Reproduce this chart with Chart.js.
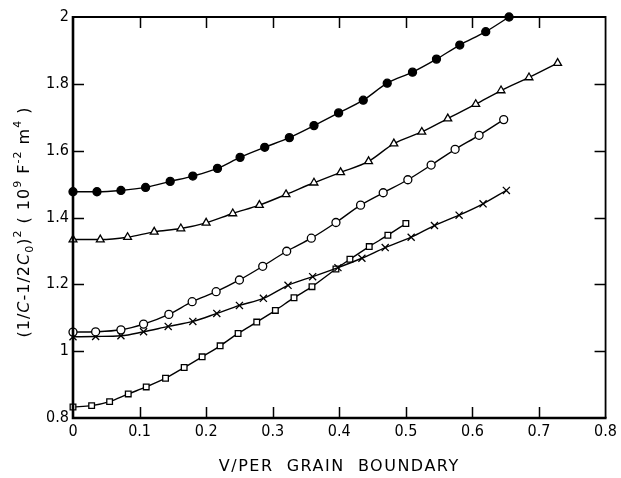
<!DOCTYPE html>
<html><head><meta charset="utf-8">
<script src="https://cdn.jsdelivr.net/npm/chart.js@4/dist/chart.umd.min.js"></script>
<style>html,body{margin:0;padding:0;background:#fff}#wrap{width:621px;height:478px}</style>
</head><body><div id="wrap"><canvas id="c" width="621" height="478"></canvas></div>
<script>
const xTickValues = [0, 0.1, 0.2, 0.3, 0.4, 0.5, 0.6, 0.7, 0.8];
const xTickLabels = ['0', '0.1', '0.2', '0.3', '0.4', '0.5', '0.6', '0.7', '0.8'];
const yTickValues = [0.8, 1.0, 1.2, 1.4, 1.6, 1.8, 2.0];
const yTickLabels = ['0.8', '1', '1.2', '1.4', '1.6', '1.8', '2'];

const filledX = [0, 0.036, 0.072, 0.109, 0.146, 0.180, 0.217, 0.251, 0.288, 0.325, 0.362, 0.399, 0.436, 0.472, 0.510, 0.546, 0.581, 0.620, 0.655];
const filledY = [1.477, 1.477, 1.481, 1.490, 1.508, 1.524, 1.547, 1.580, 1.610, 1.639, 1.675, 1.713, 1.751, 1.802, 1.835, 1.874, 1.916, 1.956, 2.000];

const triX = [0, 0.041, 0.082, 0.122, 0.162, 0.200, 0.240, 0.280, 0.320, 0.362, 0.402, 0.444, 0.482, 0.524, 0.563, 0.605, 0.643, 0.685, 0.728];
const triY = [1.334, 1.334, 1.341, 1.357, 1.367, 1.384, 1.412, 1.437, 1.469, 1.504, 1.535, 1.568, 1.621, 1.656, 1.696, 1.739, 1.780, 1.819, 1.862];

const circX = [0, 0.034, 0.072, 0.106, 0.144, 0.179, 0.215, 0.250, 0.285, 0.321, 0.358, 0.395, 0.432, 0.466, 0.503, 0.538, 0.574, 0.610, 0.647];
const circY = [1.057, 1.058, 1.064, 1.081, 1.110, 1.148, 1.178, 1.213, 1.254, 1.299, 1.338, 1.385, 1.437, 1.474, 1.513, 1.557, 1.604, 1.646, 1.693];

const crossX = [0, 0.034, 0.072, 0.106, 0.143, 0.180, 0.216, 0.250, 0.286, 0.323, 0.360, 0.398, 0.434, 0.469, 0.508, 0.543, 0.580, 0.616, 0.651];
const crossY = [1.043, 1.044, 1.046, 1.058, 1.074, 1.089, 1.113, 1.137, 1.158, 1.197, 1.223, 1.250, 1.278, 1.310, 1.341, 1.376, 1.407, 1.441, 1.481];

const sqX = [0, 0.028, 0.055, 0.083, 0.110, 0.139, 0.167, 0.194, 0.221, 0.248, 0.276, 0.304, 0.332, 0.359, 0.395, 0.416, 0.445, 0.473, 0.500];
const sqY = [0.833, 0.837, 0.849, 0.872, 0.893, 0.919, 0.951, 0.983, 1.016, 1.053, 1.087, 1.122, 1.160, 1.193, 1.246, 1.275, 1.313, 1.347, 1.382];

const xTitle = 'V/PER  GRAIN  BOUNDARY';
const yTitleParts = [
  {t: '(1/'}, {t: 'C', it: true}, {t: '-1/2'}, {t: 'C', it: true}, {t: '0', sub: true}, {t: ')'}, {t: '2', sup: true},
  {t: ' ( 10'}, {t: '9', sup: true}, {t: ' F'}, {t: '-2', sup: true}, {t: ' m'}, {t: '4', sup: true}, {t: ' )'}
];

function pts(xs, ys) { return xs.map((x, i) => ({x: x, y: ys[i]})); }

const FONT = "'DejaVu Sans Condensed', 'DejaVu Sans', sans-serif";

function ds(xs, ys, style, fill, r) {
  return {
    data: pts(xs, ys),
    showLine: true,
    borderColor: '#000',
    borderWidth: 1.4,
    tension: 0.4,
    cubicInterpolationMode: 'monotone',
    pointStyle: style,
    pointRadius: r,
    pointBackgroundColor: fill,
    pointBorderColor: '#000',
    pointBorderWidth: 1.3,
    clip: false
  };
}

const framePlugin = {
  id: 'frame',
  afterDraw(chart) {
    const ctx = chart.ctx, a = chart.chartArea, xs = chart.scales.x, ys = chart.scales.y;
    ctx.save();
    ctx.strokeStyle = '#000';
    ctx.lineCap = 'butt';
    // frame
    ctx.lineWidth = 1.8;
    ctx.beginPath();
    ctx.moveTo(a.left, a.top); ctx.lineTo(a.right, a.top); ctx.lineTo(a.right, a.bottom);
    ctx.stroke();
    ctx.lineWidth = 2.6;
    ctx.beginPath();
    ctx.moveTo(a.left, a.top - 1); ctx.lineTo(a.left, a.bottom); ctx.lineTo(a.right + 1, a.bottom);
    ctx.stroke();
    // inner ticks
    const L = 11;
    ctx.lineWidth = 1.5;
    ctx.beginPath();
    xTickValues.forEach(v => {
      if (v <= 0 || v >= 0.8) return;
      const px = Math.round(xs.getPixelForValue(v)) + 0.5;
      ctx.moveTo(px, a.bottom); ctx.lineTo(px, a.bottom - L);
      ctx.moveTo(px, a.top); ctx.lineTo(px, a.top + L);
    });
    yTickValues.forEach(v => {
      if (v <= 0.8 || v >= 2.0) return;
      const py = Math.round(ys.getPixelForValue(v)) + 0.5;
      ctx.moveTo(a.left, py); ctx.lineTo(a.left + L, py);
      ctx.moveTo(a.right, py); ctx.lineTo(a.right - L, py);
    });
    ctx.stroke();

    // x title
    ctx.fillStyle = '#000';
    ctx.font = "16px 'DejaVu Sans', sans-serif";
    ctx.textAlign = 'center';
    ctx.textBaseline = 'middle';
    if ('letterSpacing' in ctx) ctx.letterSpacing = '1.5px';
    ctx.fillText(xTitle, (a.left + a.right) / 2, 467);
    if ('letterSpacing' in ctx) ctx.letterSpacing = '0px';

    // y title (rotated, rich text)
    ctx.translate(23, 222);
    ctx.rotate(-Math.PI / 2);
    const base = 16, small = 11;
    let total = 0;
    const fontFor = p => (p.it ? 'italic ' : '') + ((p.sub || p.sup) ? small : base) + "px 'DejaVu Sans', sans-serif";
    if ('letterSpacing' in ctx) ctx.letterSpacing = '1px';
    yTitleParts.forEach(p => { ctx.font = fontFor(p); total += ctx.measureText(p.t).width; });
    let cx = -total / 2;
    ctx.textAlign = 'left';
    ctx.textBaseline = 'alphabetic';
    yTitleParts.forEach(p => {
      ctx.font = fontFor(p);
      let dy = 6;
      if (p.sup) dy = -2;
      if (p.sub) dy = 10;
      ctx.fillText(p.t, cx, dy);
      cx += ctx.measureText(p.t).width;
    });
    ctx.restore();
  }
};

new Chart(document.getElementById('c'), {
  type: 'scatter',
  data: {
    datasets: [
      ds(filledX, filledY, 'circle', '#000', 4),
      ds(triX, triY, 'triangle', '#fff', 4.5),
      ds(circX, circY, 'circle', '#fff', 4),
      ds(crossX, crossY, 'crossRot', '#000', 5),
      ds(sqX, sqY, 'rect', '#fff', 4)
    ]
  },
  options: {
    responsive: false,
    devicePixelRatio: 1,
    animation: false,
    events: [],
    layout: {padding: {left: 0, right: 7, top: 17, bottom: 0}},
    plugins: {legend: {display: false}, tooltip: {enabled: false}, title: {display: false}},
    scales: {
      x: {
        type: 'linear', min: 0, max: 0.8,
        afterBuildTicks: s => { s.ticks = xTickValues.map(v => ({value: v})); },
        afterFit: s => { s.height = 60; },
        grid: {display: false, drawTicks: false},
        border: {display: false},
        ticks: {
          color: '#000', padding: 4, maxRotation: 0, autoSkip: false,
          font: {family: FONT, size: 16},
          callback: (v) => { const i = xTickValues.findIndex(t => Math.abs(t - v) < 1e-9); return i >= 0 ? xTickLabels[i] : ''; }
        }
      },
      y: {
        type: 'linear', min: 0.8, max: 2.0,
        afterBuildTicks: s => { s.ticks = yTickValues.map(v => ({value: v})); },
        afterFit: s => { s.width = 73; },
        grid: {display: false, drawTicks: false},
        border: {display: false},
        ticks: {
          color: '#000', padding: 4, autoSkip: false,
          font: {family: FONT, size: 16},
          callback: (v) => { const i = yTickValues.findIndex(t => Math.abs(t - v) < 1e-9); return i >= 0 ? yTickLabels[i] : ''; }
        }
      }
    }
  },
  plugins: [framePlugin]
});
</script>
</body></html>
